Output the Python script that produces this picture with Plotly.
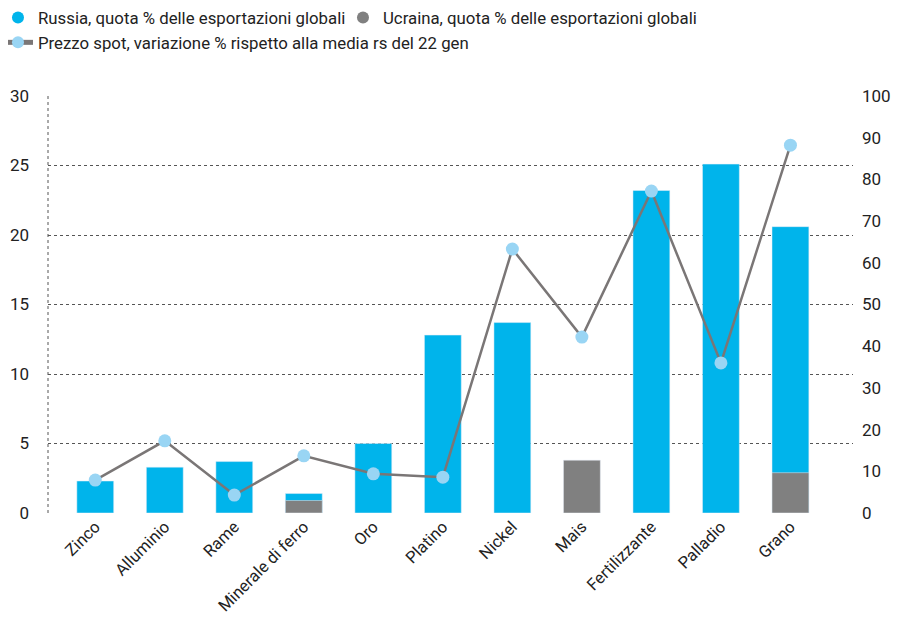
import plotly.graph_objects as go

categories = ["Zinco", "Alluminio", "Rame", "Minerale di ferro", "Oro", "Platino",
              "Nickel", "Mais", "Fertilizzante", "Palladio", "Grano"]
russia = [2.3, 3.3, 3.7, 1.4, 5.0, 12.8, 13.7, None, 23.2, 25.1, 20.6]
ukraine = [None, None, None, 0.9, None, None, None, 3.8, None, None, 2.9]
price_change = [7.9, 17.3, 4.3, 13.7, 9.4, 8.6, 63.3, 42.2, 77.2, 36.0, 88.2]

left_ticks = [0, 5, 10, 15, 20, 25, 30]
right_ticks = list(range(0, 101, 10))

BLUE = "#00B4EB"
GRAY = "#808080"
LIGHT = "#99D5F4"
LINE = "#7A7676"
FONT = "Roboto"

fig = go.Figure()
fig.add_trace(go.Bar(x=categories, y=russia, marker_color=BLUE, width=0.53,
                     showlegend=False, name="Russia"))
fig.add_trace(go.Bar(x=categories, y=ukraine, marker_color=GRAY, width=0.53,
                     showlegend=False, name="Ucraina"))
fig.add_trace(go.Scatter(x=categories, y=price_change, yaxis="y2", mode="lines+markers",
                         line=dict(color=LINE, width=2.5),
                         marker=dict(color=LIGHT, size=13),
                         showlegend=False, name="Prezzo"))
# legend entries
fig.add_trace(go.Scatter(x=[None], y=[None], mode="markers",
                         marker=dict(color=BLUE, size=14, symbol="circle"),
                         name="Russia, quota % delle esportazioni globali"))
fig.add_trace(go.Scatter(x=[None], y=[None], mode="markers",
                         marker=dict(color=GRAY, size=14, symbol="circle"),
                         name="Ucraina, quota % delle esportazioni globali"))
fig.add_trace(go.Scatter(x=[None], y=[None], mode="lines+markers",
                         line=dict(color=LINE, width=2.5),
                         marker=dict(color=LIGHT, size=14),
                         name="Prezzo spot, variazione % rispetto alla media rs del 22 gen"))

fig.update_layout(
    width=909, height=623,
    margin=dict(l=40, r=64, t=88, b=118, autoexpand=False),
    paper_bgcolor="white", plot_bgcolor="white",
    barmode="overlay",
    font=dict(family=FONT, size=17, color="#222222"),
    xaxis=dict(range=[-0.68, 10.9], tickangle=-45, showgrid=False, showline=False,
               ticks="", tickfont=dict(size=16.5), automargin=False),
    yaxis=dict(range=[0, 30], tickvals=left_ticks, showgrid=True, griddash="dot",
               gridcolor="#555555", gridwidth=1, zeroline=False, showline=False,
               ticks="", ticklabelstandoff=18, tickfont=dict(size=17), automargin=False),
    yaxis2=dict(range=[0, 100], tickvals=right_ticks, overlaying="y", side="right",
                showgrid=False, zeroline=False, showline=False, ticks="",
                ticklabelstandoff=8, tickfont=dict(size=17), automargin=False),
    legend=dict(orientation="h", x=-0.0497, xanchor="left", y=1.23, yanchor="top",
                font=dict(size=16.8), itemsizing="constant", tracegroupgap=0,
                indentation=-10, entrywidth=310, entrywidthmode="pixels"),
    shapes=[dict(type="line", xref="paper", yref="paper", x0=0, x1=0, y0=0, y1=1,
                 line=dict(color="#555555", width=1, dash="dot"))],
)

fig.write_html("out.html")
